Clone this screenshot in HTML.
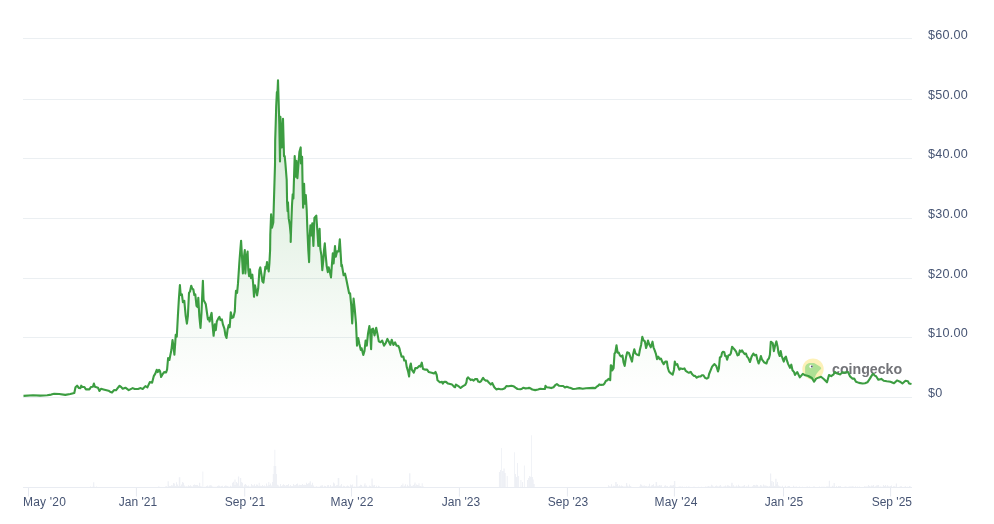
<!DOCTYPE html>
<html><head><meta charset="utf-8"><title>Chart</title><style>
html,body{margin:0;padding:0;background:#fff;}body{width:994px;height:524px;overflow:hidden;position:relative;font-family:"Liberation Sans",sans-serif;}
svg{position:absolute;left:0;top:0;display:block}
.yl{will-change:transform;position:absolute;left:928px;font-size:12.6px;line-height:14px;color:#465473;white-space:nowrap;letter-spacing:0.25px}
.xl{will-change:transform;position:absolute;top:495px;font-size:12px;line-height:14px;color:#465473;white-space:nowrap}
.wm{will-change:transform;position:absolute;left:831.6px;top:360.6px;font-size:14.2px;line-height:16px;font-weight:bold;color:#6c6d72;white-space:nowrap;opacity:.95}
</style></head><body>
<svg width="994" height="524" viewBox="0 0 994 524">
<defs><linearGradient id="g" x1="0" y1="38" x2="0" y2="397" gradientUnits="userSpaceOnUse"><stop offset="0" stop-color="#43a047" stop-opacity="0.29"/><stop offset="0.8" stop-color="#43a047" stop-opacity="0.045"/><stop offset="1" stop-color="#43a047" stop-opacity="0"/></linearGradient></defs>
<rect x="23" y="38" width="889" height="1" fill="#ebeff2"/>
<rect x="23" y="99" width="889" height="1" fill="#ebeff2"/>
<rect x="23" y="158" width="889" height="1" fill="#ebeff2"/>
<rect x="23" y="218" width="889" height="1" fill="#ebeff2"/>
<rect x="23" y="278" width="889" height="1" fill="#ebeff2"/>
<rect x="23" y="337" width="889" height="1" fill="#ebeff2"/>
<rect x="23" y="397" width="889" height="1" fill="#ebeff2"/>
<path d="M23.5 395.9 L33.1 395.2 L40.1 395.6 L47.2 395.2 L51.2 394.6 L54.2 393.8 L59.2 394.0 L65.3 394.9 L70.3 394.0 L74.3 393.0 L75.5 387.2 L77.1 385.7 L78.9 388.0 L80.4 388.2 L81.2 385.7 L82.4 387.0 L84.4 387.0 L85.9 389.4 L89.4 389.4 L90.9 387.0 L92.9 386.7 L93.9 383.6 L94.9 386.7 L98.0 387.7 L99.5 391.0 L101.0 388.7 L103.5 389.4 L108.5 390.7 L110.0 391.7 L112.0 392.5 L114.0 390.1 L116.0 390.3 L118.0 387.7 L119.6 385.8 L121.3 387.1 L122.7 388.7 L125.4 387.7 L128.7 390.1 L132.7 388.1 L134.7 389.0 L138.0 389.0 L140.7 388.1 L142.7 389.0 L145.4 386.1 L147.4 387.4 L149.8 382.1 L152.1 382.7 L153.8 376.1 L155.4 373.4 L156.7 369.8 L157.8 372.1 L159.1 369.8 L160.1 371.4 L161.1 377.0 L162.7 374.1 L164.1 372.1 L166.1 372.5 L167.1 369.4 L168.1 358.0 L169.4 360.0 L170.3 355.4 L171.4 350.0 L172.5 340.0 L173.4 346.0 L174.4 354.7 L175.2 343.4 L175.7 334.7 L176.8 336.7 L177.9 315.8 L178.9 298.6 L179.9 285.0 L180.7 295.0 L181.9 294.3 L182.9 302.2 L184.3 300.8 L185.7 315.8 L186.9 323.6 L187.9 315.8 L189.0 292.9 L190.0 291.5 L191.2 285.7 L192.2 288.6 L193.3 289.3 L194.3 295.0 L195.3 294.3 L196.5 305.8 L197.6 307.2 L198.3 297.9 L199.3 315.8 L200.5 327.9 L201.5 312.9 L202.2 295.8 L202.9 280.7 L203.6 300.0 L204.8 302.2 L205.8 304.3 L206.8 311.5 L207.9 319.4 L209.1 317.9 L209.6 321.5 L210.8 315.8 L211.6 312.9 L212.5 324.4 L213.6 335.8 L214.8 324.4 L215.8 330.1 L216.8 321.5 L218.2 318.6 L219.4 316.9 L220.5 320.1 L221.9 319.4 L222.9 324.4 L224.4 328.7 L225.4 335.1 L226.5 338.0 L227.5 330.1 L228.7 325.1 L229.7 327.2 L230.8 312.2 L232.0 317.9 L233.4 317.2 L234.8 311.5 L235.3 300.0 L236.0 290.7 L237.1 292.8 L238.0 283.4 L239.3 263.4 L240.0 254.0 L241.1 240.7 L242.0 256.7 L242.9 273.4 L244.0 256.7 L244.8 250.0 L245.4 273.4 L246.2 258.7 L247.6 251.6 L248.3 270.1 L249.1 276.1 L250.0 269.4 L251.0 278.1 L252.3 274.7 L253.1 283.4 L254.0 296.8 L255.0 285.4 L256.0 290.1 L257.1 295.4 L258.2 288.7 L259.4 270.1 L260.3 267.4 L261.4 274.1 L262.4 281.4 L263.4 282.7 L264.4 274.7 L265.4 266.7 L266.2 268.7 L267.0 262.0 L267.8 266.7 L268.7 271.4 L269.4 263.4 L270.1 250.0 L270.3 235.0 L271.1 214.4 L272.0 227.8 L273.3 222.4 L274.0 198.4 L275.0 165.0 L275.2 140.0 L275.7 124.0 L276.2 106.0 L276.9 92.0 L277.3 97.0 L278.0 80.4 L278.6 100.0 L278.9 110.0 L279.3 124.0 L280.0 161.4 L280.4 116.7 L281.8 147.4 L283.0 118.7 L284.0 156.1 L284.7 156.1 L285.4 163.4 L286.7 180.0 L287.1 202.4 L287.6 211.1 L288.0 202.4 L288.7 218.4 L289.8 225.1 L290.7 235.0 L290.7 242.0 L291.1 229.1 L292.0 205.1 L292.7 194.4 L293.4 198.4 L294.0 178.4 L294.7 156.1 L295.6 176.8 L296.4 160.7 L297.4 178.1 L298.3 166.1 L299.4 152.1 L300.7 147.4 L301.0 163.4 L302.1 156.7 L302.7 191.7 L303.1 207.7 L304.1 183.7 L304.7 203.7 L305.8 195.0 L306.7 210.0 L307.3 227.4 L308.3 250.1 L309.1 262.1 L309.7 236.7 L310.4 225.4 L311.3 235.4 L312.3 223.4 L313.4 246.0 L314.4 218.0 L316.3 215.6 L317.4 231.4 L318.3 246.0 L319.6 228.7 L320.3 248.7 L321.4 255.4 L322.3 270.1 L323.4 259.4 L324.0 250.1 L324.8 243.4 L325.6 254.1 L326.7 266.1 L327.8 272.1 L328.7 267.4 L329.6 270.7 L331.0 277.4 L331.8 266.1 L332.8 253.4 L333.6 263.4 L335.0 246.0 L335.8 256.7 L337.1 251.4 L338.7 251.4 L339.8 239.4 L340.7 254.1 L341.4 266.1 L341.9 265.0 L343.6 275.3 L345.0 273.6 L346.2 278.7 L347.9 287.3 L349.1 293.3 L350.1 293.3 L351.3 306.2 L352.2 323.4 L353.6 298.5 L354.8 309.7 L356.0 323.4 L357.0 345.7 L358.2 338.0 L359.4 344.0 L360.8 350.0 L361.6 348.3 L363.3 355.0 L364.5 350.9 L365.6 340.6 L366.8 345.7 L368.0 333.7 L369.4 326.0 L370.2 332.8 L371.1 349.2 L371.9 329.4 L373.1 328.6 L374.5 335.4 L376.2 327.7 L377.6 334.6 L378.8 341.4 L380.5 342.3 L382.2 340.6 L384.0 345.7 L385.7 343.2 L387.4 338.9 L389.1 342.3 L390.3 344.9 L391.7 339.7 L393.4 344.9 L395.1 342.3 L396.5 345.7 L398.2 345.7 L399.4 348.3 L400.1 351.3 L401.6 356.6 L403.4 356.6 L404.2 360.5 L405.7 360.5 L406.8 367.3 L408.0 371.1 L409.1 376.5 L409.8 367.3 L410.8 363.5 L411.8 369.6 L413.8 372.7 L415.3 368.1 L417.2 368.1 L419.5 365.8 L420.5 366.6 L421.8 362.7 L423.0 368.9 L424.8 369.6 L427.1 369.6 L428.6 371.9 L431.7 372.7 L434.0 373.4 L435.5 371.9 L436.7 375.0 L437.5 380.3 L439.3 381.8 L440.0 382.3 L442.0 381.9 L442.8 383.6 L444.0 381.9 L446.0 381.9 L448.0 383.6 L450.1 384.1 L452.1 384.6 L454.1 386.7 L455.1 387.2 L455.9 384.6 L457.6 385.7 L459.1 386.7 L460.6 388.0 L462.6 386.4 L465.2 384.9 L466.4 382.6 L467.0 378.6 L468.0 377.3 L469.2 378.6 L470.7 380.1 L472.2 379.6 L473.7 380.6 L475.2 379.1 L477.2 379.1 L478.2 381.6 L479.7 382.1 L481.2 381.1 L482.3 379.1 L483.1 377.9 L484.3 379.6 L485.8 380.6 L487.3 380.6 L488.8 382.6 L490.8 384.6 L492.3 383.1 L493.3 385.2 L494.3 387.2 L496.3 389.4 L498.4 388.7 L500.4 389.2 L502.4 389.2 L504.9 388.2 L506.4 386.0 L508.4 386.2 L511.4 385.7 L513.4 386.2 L515.5 387.7 L517.5 389.0 L520.5 389.2 L522.0 388.7 L523.5 387.7 L525.5 388.4 L527.5 388.2 L529.0 387.9 L530.0 388.1 L532.3 389.5 L535.2 390.1 L538.0 389.5 L540.3 388.7 L542.6 389.0 L544.9 389.0 L545.5 385.8 L546.6 387.2 L548.9 387.5 L551.2 388.1 L553.5 387.2 L555.2 385.2 L556.9 384.1 L559.2 385.8 L561.5 386.0 L563.2 386.0 L564.9 387.5 L566.7 386.7 L568.9 387.5 L570.7 388.1 L573.0 389.0 L575.8 388.7 L579.3 388.1 L582.7 388.7 L586.1 388.3 L589.6 388.1 L593.0 387.9 L595.3 388.1 L597.0 386.4 L598.2 385.8 L599.3 384.4 L601.0 384.9 L603.3 384.7 L604.5 383.5 L605.8 381.0 L607.3 380.3 L608.5 378.9 L610.2 380.1 L610.8 365.2 L611.6 365.8 L612.2 370.4 L613.6 368.1 L614.5 353.7 L615.3 352.6 L616.5 345.2 L617.6 352.6 L618.8 352.6 L619.9 355.5 L620.0 355.4 L621.2 356.6 L622.5 355.4 L623.5 362.2 L624.7 365.9 L626.0 357.3 L627.2 352.3 L628.9 352.9 L630.5 357.3 L632.0 361.6 L633.0 354.8 L634.3 349.2 L635.5 353.5 L637.4 354.8 L638.9 355.4 L639.9 349.8 L641.1 344.9 L642.3 336.8 L643.6 340.5 L644.8 341.1 L646.1 348.0 L647.0 344.9 L648.0 340.5 L649.2 344.2 L650.8 347.3 L652.5 341.7 L653.5 347.3 L654.7 350.4 L656.0 354.2 L657.0 359.1 L658.2 356.6 L659.7 359.1 L660.9 358.5 L662.2 361.6 L663.7 364.1 L665.3 361.6 L666.9 361.6 L667.8 367.8 L669.0 371.5 L670.9 373.4 L672.7 374.6 L674.0 369.7 L674.8 361.6 L675.8 364.7 L677.3 364.1 L678.3 367.2 L679.3 369.7 L680.8 368.4 L682.7 369.0 L684.5 368.4 L685.8 370.9 L687.6 372.1 L688.9 372.8 L690.7 371.9 L692.0 374.0 L693.8 375.9 L695.1 375.9 L696.7 377.7 L698.8 376.5 L700.6 376.5 L701.9 375.2 L703.4 375.2 L705.0 377.7 L706.8 378.6 L708.3 377.7 L709.1 374.0 L710.6 370.3 L712.1 366.6 L713.3 365.3 L714.5 364.1 L716.2 365.9 L717.1 368.4 L718.0 371.5 L718.9 368.4 L719.9 357.3 L721.2 356.6 L722.0 352.9 L723.0 351.7 L724.3 352.3 L725.1 356.0 L726.1 356.0 L727.1 359.7 L728.4 355.4 L729.9 354.8 L730.8 353.5 L732.1 346.7 L733.6 348.6 L734.8 349.8 L736.1 351.7 L737.5 355.4 L738.8 354.8 L739.8 350.4 L741.0 351.7 L742.0 350.4 L743.3 352.3 L744.7 354.2 L746.0 353.5 L747.0 356.6 L748.2 357.9 L750.0 362.0 L751.6 356.6 L753.4 353.5 L754.7 355.4 L756.2 354.8 L757.4 359.7 L758.6 363.5 L759.6 361.0 L760.9 356.0 L762.1 359.7 L764.0 362.2 L766.5 363.5 L767.7 359.7 L768.9 358.5 L769.9 354.8 L770.8 341.7 L772.7 343.0 L773.9 351.1 L775.1 345.5 L776.4 341.4 L777.6 346.7 L778.5 352.9 L779.7 356.0 L780.7 351.1 L781.7 356.0 L782.6 358.5 L783.8 361.6 L784.8 357.9 L785.9 356.6 L786.9 360.4 L788.2 364.1 L790.0 367.8 L791.3 364.7 L792.5 370.3 L794.1 372.1 L795.0 375.0 L797.2 372.0 L799.8 377.4 L802.8 373.8 L805.3 375.3 L808.3 376.0 L811.9 378.0 L814.1 381.7 L816.1 378.6 L819.1 377.4 L821.0 376.8 L824.0 379.2 L827.0 382.3 L829.0 375.0 L831.2 376.2 L833.6 374.4 L834.8 372.0 L837.3 373.6 L840.3 374.4 L842.1 372.4 L844.5 372.6 L848.1 372.0 L849.9 376.2 L852.3 378.6 L854.2 378.6 L856.0 381.7 L859.0 382.9 L862.6 383.5 L865.0 383.2 L867.4 382.3 L869.9 378.6 L871.7 375.6 L872.9 373.8 L874.7 375.6 L876.1 376.2 L878.3 379.8 L881.3 378.9 L883.7 380.8 L886.8 381.3 L890.4 381.7 L894.0 383.2 L897.0 380.4 L900.0 381.7 L902.4 383.5 L905.5 380.8 L907.9 381.3 L909.1 383.5 L911.5 384.1 L911.5 397.5 L23.5 397.5 Z" fill="url(#g)" stroke="none"/>
<path d="M40 487.2h1V487.5h-1ZM43 487.2h1V487.5h-1ZM45 487.2h1V487.5h-1ZM70 487.2h1V487.5h-1ZM73 487.2h1V487.5h-1ZM83 487.2h1V487.5h-1ZM90 486.6h1V487.5h-1ZM91 487h1V487.5h-1ZM92 486.8h1V487.5h-1ZM93 487.2h1V487.5h-1ZM94 486.8h1V487.5h-1ZM95 486.9h1V487.5h-1ZM96 486.5h1V487.5h-1ZM97 487.2h1V487.5h-1ZM100 487.2h1V487.5h-1ZM106 487.2h1V487.5h-1ZM110 487.2h1V487.5h-1ZM114 487.2h1V487.5h-1ZM115 487.2h1V487.5h-1ZM116 487.2h1V487.5h-1ZM120 487.2h1V487.5h-1ZM121 487.1h1V487.5h-1ZM133 487.1h1V487.5h-1ZM134 487.2h1V487.5h-1ZM137 487.2h1V487.5h-1ZM139 487.1h1V487.5h-1ZM140 487.2h1V487.5h-1ZM141 487.2h1V487.5h-1ZM142 487.2h1V487.5h-1ZM146 487.2h1V487.5h-1ZM156 487h1V487.5h-1ZM157 487.2h1V487.5h-1ZM158 486.5h1V487.5h-1ZM159 486.8h1V487.5h-1ZM160 487.1h1V487.5h-1ZM161 487.1h1V487.5h-1ZM162 487h1V487.5h-1ZM163 487h1V487.5h-1ZM164 487.2h1V487.5h-1ZM165 486.5h1V487.5h-1ZM166 486.3h1V487.5h-1ZM167 486.9h1V487.5h-1ZM168 484.7h1V487.5h-1ZM169 486h1V487.5h-1ZM170 486h1V487.5h-1ZM171 485.3h1V487.5h-1ZM172 485.6h1V487.5h-1ZM173 483h1V487.5h-1ZM174 485.9h1V487.5h-1ZM175 486.1h1V487.5h-1ZM176 482.3h1V487.5h-1ZM177 484.5h1V487.5h-1ZM178 485.9h1V487.5h-1ZM179 484.5h1V487.5h-1ZM180 486.1h1V487.5h-1ZM181 484.5h1V487.5h-1ZM182 482.1h1V487.5h-1ZM183 482.8h1V487.5h-1ZM184 485.4h1V487.5h-1ZM185 486.4h1V487.5h-1ZM186 486.3h1V487.5h-1ZM187 486.6h1V487.5h-1ZM188 485.2h1V487.5h-1ZM189 485.9h1V487.5h-1ZM190 485.2h1V487.5h-1ZM191 486.3h1V487.5h-1ZM192 486.5h1V487.5h-1ZM193 485.1h1V487.5h-1ZM194 484.6h1V487.5h-1ZM195 485h1V487.5h-1ZM196 485.1h1V487.5h-1ZM197 485.1h1V487.5h-1ZM198 485.9h1V487.5h-1ZM199 486.8h1V487.5h-1ZM200 486.3h1V487.5h-1ZM201 486.6h1V487.5h-1ZM202 486.9h1V487.5h-1ZM203 486.9h1V487.5h-1ZM204 486.7h1V487.5h-1ZM205 486.7h1V487.5h-1ZM206 486h1V487.5h-1ZM207 485.4h1V487.5h-1ZM208 486.5h1V487.5h-1ZM209 485.5h1V487.5h-1ZM210 485.3h1V487.5h-1ZM211 485.4h1V487.5h-1ZM212 486.6h1V487.5h-1ZM213 486.8h1V487.5h-1ZM214 486.8h1V487.5h-1ZM215 486.8h1V487.5h-1ZM216 486.8h1V487.5h-1ZM217 486.1h1V487.5h-1ZM218 485.5h1V487.5h-1ZM219 485.7h1V487.5h-1ZM220 486.4h1V487.5h-1ZM221 486.1h1V487.5h-1ZM222 485.8h1V487.5h-1ZM223 486.9h1V487.5h-1ZM224 486.1h1V487.5h-1ZM225 485.5h1V487.5h-1ZM226 485.8h1V487.5h-1ZM227 485.9h1V487.5h-1ZM228 486.4h1V487.5h-1ZM229 486.8h1V487.5h-1ZM230 485.8h1V487.5h-1ZM231 486.6h1V487.5h-1ZM232 482.8h1V487.5h-1ZM233 481.7h1V487.5h-1ZM234 484.9h1V487.5h-1ZM235 484.9h1V487.5h-1ZM236 481.9h1V487.5h-1ZM237 483.2h1V487.5h-1ZM238 485.7h1V487.5h-1ZM239 485.8h1V487.5h-1ZM240 485.7h1V487.5h-1ZM241 482.1h1V487.5h-1ZM242 482.7h1V487.5h-1ZM243 486.5h1V487.5h-1ZM244 484.7h1V487.5h-1ZM245 484.1h1V487.5h-1ZM246 485.2h1V487.5h-1ZM247 486.1h1V487.5h-1ZM248 485.6h1V487.5h-1ZM249 486.5h1V487.5h-1ZM250 486.6h1V487.5h-1ZM251 484.1h1V487.5h-1ZM252 485.3h1V487.5h-1ZM253 485.6h1V487.5h-1ZM254 484.3h1V487.5h-1ZM255 485.9h1V487.5h-1ZM256 484.5h1V487.5h-1ZM257 484.7h1V487.5h-1ZM258 486h1V487.5h-1ZM259 485.9h1V487.5h-1ZM260 485.8h1V487.5h-1ZM261 486h1V487.5h-1ZM262 484.9h1V487.5h-1ZM263 485.9h1V487.5h-1ZM264 485.5h1V487.5h-1ZM265 486.2h1V487.5h-1ZM266 483.4h1V487.5h-1ZM267 485.7h1V487.5h-1ZM268 485.3h1V487.5h-1ZM269 484.9h1V487.5h-1ZM270 483.5h1V487.5h-1ZM271 485.5h1V487.5h-1ZM272 482h1V487.5h-1ZM273 484.4h1V487.5h-1ZM274 484.3h1V487.5h-1ZM275 484.3h1V487.5h-1ZM276 486h1V487.5h-1ZM277 484.7h1V487.5h-1ZM278 485.6h1V487.5h-1ZM279 486.4h1V487.5h-1ZM280 484h1V487.5h-1ZM281 486.1h1V487.5h-1ZM282 485.3h1V487.5h-1ZM283 484.3h1V487.5h-1ZM284 485h1V487.5h-1ZM285 485.7h1V487.5h-1ZM286 485.1h1V487.5h-1ZM287 485h1V487.5h-1ZM288 484h1V487.5h-1ZM289 486.3h1V487.5h-1ZM290 485h1V487.5h-1ZM291 486h1V487.5h-1ZM292 485.9h1V487.5h-1ZM293 484.1h1V487.5h-1ZM294 485.2h1V487.5h-1ZM295 485h1V487.5h-1ZM296 484.1h1V487.5h-1ZM297 483.4h1V487.5h-1ZM298 485.4h1V487.5h-1ZM299 484.8h1V487.5h-1ZM300 484.9h1V487.5h-1ZM301 484.9h1V487.5h-1ZM302 484.1h1V487.5h-1ZM303 485.1h1V487.5h-1ZM304 484.8h1V487.5h-1ZM305 485h1V487.5h-1ZM306 482.8h1V487.5h-1ZM307 484.1h1V487.5h-1ZM308 483.2h1V487.5h-1ZM309 482.8h1V487.5h-1ZM310 485.8h1V487.5h-1ZM311 484.7h1V487.5h-1ZM312 482.8h1V487.5h-1ZM313 485.4h1V487.5h-1ZM314 486.8h1V487.5h-1ZM315 486.8h1V487.5h-1ZM316 486.3h1V487.5h-1ZM317 486.8h1V487.5h-1ZM318 486.7h1V487.5h-1ZM319 486.8h1V487.5h-1ZM320 485.8h1V487.5h-1ZM321 485.6h1V487.5h-1ZM322 485.3h1V487.5h-1ZM323 486.8h1V487.5h-1ZM324 485.7h1V487.5h-1ZM325 485.9h1V487.5h-1ZM326 486.8h1V487.5h-1ZM327 485.3h1V487.5h-1ZM328 485.1h1V487.5h-1ZM329 486.7h1V487.5h-1ZM330 485.1h1V487.5h-1ZM331 486.4h1V487.5h-1ZM332 486.2h1V487.5h-1ZM333 482.6h1V487.5h-1ZM334 483.4h1V487.5h-1ZM335 486h1V487.5h-1ZM336 485.2h1V487.5h-1ZM337 484.9h1V487.5h-1ZM338 485.5h1V487.5h-1ZM339 485.9h1V487.5h-1ZM340 485.6h1V487.5h-1ZM341 483.9h1V487.5h-1ZM342 486.7h1V487.5h-1ZM343 485.8h1V487.5h-1ZM344 486.1h1V487.5h-1ZM345 486.7h1V487.5h-1ZM346 486.3h1V487.5h-1ZM347 485.6h1V487.5h-1ZM348 485.9h1V487.5h-1ZM349 486.7h1V487.5h-1ZM350 484.6h1V487.5h-1ZM351 485.2h1V487.5h-1ZM352 484.6h1V487.5h-1ZM353 486.7h1V487.5h-1ZM354 486.4h1V487.5h-1ZM355 486.7h1V487.5h-1ZM356 485.2h1V487.5h-1ZM357 486.4h1V487.5h-1ZM358 486.6h1V487.5h-1ZM359 486.1h1V487.5h-1ZM360 484.8h1V487.5h-1ZM361 485.1h1V487.5h-1ZM362 486.5h1V487.5h-1ZM363 486.6h1V487.5h-1ZM364 484.8h1V487.5h-1ZM365 485.8h1V487.5h-1ZM366 485.4h1V487.5h-1ZM367 486.7h1V487.5h-1ZM368 486.7h1V487.5h-1ZM369 485.5h1V487.5h-1ZM370 486.1h1V487.5h-1ZM371 486.7h1V487.5h-1ZM372 484.7h1V487.5h-1ZM373 485.6h1V487.5h-1ZM374 485.1h1V487.5h-1ZM375 487h1V487.5h-1ZM376 485.8h1V487.5h-1ZM377 487h1V487.5h-1ZM378 485.8h1V487.5h-1ZM379 486.5h1V487.5h-1ZM381 487.2h1V487.5h-1ZM382 486.9h1V487.5h-1ZM385 487.2h1V487.5h-1ZM393 487.1h1V487.5h-1ZM395 487.2h1V487.5h-1ZM400 486.6h1V487.5h-1ZM401 485h1V487.5h-1ZM402 485.6h1V487.5h-1ZM403 486.4h1V487.5h-1ZM404 485.8h1V487.5h-1ZM405 484.3h1V487.5h-1ZM406 486.5h1V487.5h-1ZM407 484.7h1V487.5h-1ZM408 485.9h1V487.5h-1ZM409 485.7h1V487.5h-1ZM410 484.6h1V487.5h-1ZM411 486h1V487.5h-1ZM412 485.7h1V487.5h-1ZM413 485.1h1V487.5h-1ZM414 484.1h1V487.5h-1ZM415 486.1h1V487.5h-1ZM416 484.6h1V487.5h-1ZM417 485.1h1V487.5h-1ZM418 485.3h1V487.5h-1ZM419 485.9h1V487.5h-1ZM420 486.1h1V487.5h-1ZM421 486.6h1V487.5h-1ZM422 486.5h1V487.5h-1ZM423 486.6h1V487.5h-1ZM424 487.1h1V487.5h-1ZM428 487.1h1V487.5h-1ZM429 487.1h1V487.5h-1ZM430 487.2h1V487.5h-1ZM438 487h1V487.5h-1ZM439 487h1V487.5h-1ZM440 487.2h1V487.5h-1ZM442 487h1V487.5h-1ZM448 487.2h1V487.5h-1ZM450 487.2h1V487.5h-1ZM459 487.2h1V487.5h-1ZM460 487.2h1V487.5h-1ZM461 487.1h1V487.5h-1ZM462 487.2h1V487.5h-1ZM463 487.1h1V487.5h-1ZM464 487.1h1V487.5h-1ZM467 487h1V487.5h-1ZM469 487.1h1V487.5h-1ZM470 487.2h1V487.5h-1ZM472 487.1h1V487.5h-1ZM473 487.1h1V487.5h-1ZM474 487.2h1V487.5h-1ZM475 487.1h1V487.5h-1ZM476 487.1h1V487.5h-1ZM478 487.2h1V487.5h-1ZM479 487.2h1V487.5h-1ZM480 487.1h1V487.5h-1ZM481 487.1h1V487.5h-1ZM482 487.1h1V487.5h-1ZM483 487.2h1V487.5h-1ZM484 487.1h1V487.5h-1ZM485 487.2h1V487.5h-1ZM486 487.2h1V487.5h-1ZM492 487.1h1V487.5h-1ZM493 487.2h1V487.5h-1ZM494 487.2h1V487.5h-1ZM495 487.2h1V487.5h-1ZM496 487.2h1V487.5h-1ZM509 487.1h1V487.5h-1ZM511 487.1h1V487.5h-1ZM512 487h1V487.5h-1ZM537 487.2h1V487.5h-1ZM539 487.2h1V487.5h-1ZM540 487.2h1V487.5h-1ZM544 487.2h1V487.5h-1ZM548 487.2h1V487.5h-1ZM553 487.2h1V487.5h-1ZM557 487.2h1V487.5h-1ZM560 487.2h1V487.5h-1ZM575 487.2h1V487.5h-1ZM577 487.2h1V487.5h-1ZM581 487.2h1V487.5h-1ZM590 487.2h1V487.5h-1ZM596 487.2h1V487.5h-1ZM597 487.2h1V487.5h-1ZM600 487.2h1V487.5h-1ZM601 487.2h1V487.5h-1ZM608 485.3h1V487.5h-1ZM609 486.2h1V487.5h-1ZM610 486.6h1V487.5h-1ZM611 484.3h1V487.5h-1ZM612 486.5h1V487.5h-1ZM613 485.8h1V487.5h-1ZM614 486.1h1V487.5h-1ZM615 486.2h1V487.5h-1ZM616 485h1V487.5h-1ZM617 484.1h1V487.5h-1ZM618 486.3h1V487.5h-1ZM619 485.2h1V487.5h-1ZM620 486.2h1V487.5h-1ZM621 485.5h1V487.5h-1ZM622 486h1V487.5h-1ZM623 486.4h1V487.5h-1ZM624 486.5h1V487.5h-1ZM625 486.4h1V487.5h-1ZM626 484.4h1V487.5h-1ZM627 485.7h1V487.5h-1ZM628 486.4h1V487.5h-1ZM629 484.4h1V487.5h-1ZM630 486h1V487.5h-1ZM631 486.8h1V487.5h-1ZM632 487.1h1V487.5h-1ZM633 487h1V487.5h-1ZM634 487.1h1V487.5h-1ZM635 486.9h1V487.5h-1ZM636 487.1h1V487.5h-1ZM637 487h1V487.5h-1ZM638 487h1V487.5h-1ZM639 486.6h1V487.5h-1ZM640 484.2h1V487.5h-1ZM641 484.7h1V487.5h-1ZM642 485.8h1V487.5h-1ZM643 485.8h1V487.5h-1ZM644 485.5h1V487.5h-1ZM645 485.9h1V487.5h-1ZM646 486h1V487.5h-1ZM647 486.5h1V487.5h-1ZM648 486.1h1V487.5h-1ZM649 483.8h1V487.5h-1ZM650 486.4h1V487.5h-1ZM651 485.5h1V487.5h-1ZM652 485.1h1V487.5h-1ZM653 484.3h1V487.5h-1ZM654 486.3h1V487.5h-1ZM655 486.1h1V487.5h-1ZM656 486.2h1V487.5h-1ZM657 485.8h1V487.5h-1ZM658 485.7h1V487.5h-1ZM659 485.1h1V487.5h-1ZM660 485.4h1V487.5h-1ZM661 485.3h1V487.5h-1ZM662 486.9h1V487.5h-1ZM663 486.9h1V487.5h-1ZM664 485.8h1V487.5h-1ZM665 485.3h1V487.5h-1ZM666 486.3h1V487.5h-1ZM667 486h1V487.5h-1ZM668 486.9h1V487.5h-1ZM669 486.4h1V487.5h-1ZM670 485.2h1V487.5h-1ZM671 485.5h1V487.5h-1ZM672 485.4h1V487.5h-1ZM673 485.1h1V487.5h-1ZM674 486.6h1V487.5h-1ZM675 486.8h1V487.5h-1ZM676 487.1h1V487.5h-1ZM677 486.9h1V487.5h-1ZM678 486.7h1V487.5h-1ZM679 486.4h1V487.5h-1ZM680 486.6h1V487.5h-1ZM681 486.7h1V487.5h-1ZM682 486.6h1V487.5h-1ZM683 486.9h1V487.5h-1ZM684 486.8h1V487.5h-1ZM685 487.2h1V487.5h-1ZM686 486.6h1V487.5h-1ZM687 487.1h1V487.5h-1ZM688 486.4h1V487.5h-1ZM689 486.7h1V487.5h-1ZM690 487h1V487.5h-1ZM691 487.2h1V487.5h-1ZM692 487.1h1V487.5h-1ZM693 486.7h1V487.5h-1ZM694 486.7h1V487.5h-1ZM695 487.2h1V487.5h-1ZM696 487.2h1V487.5h-1ZM697 486.9h1V487.5h-1ZM698 486.8h1V487.5h-1ZM699 487h1V487.5h-1ZM700 487.1h1V487.5h-1ZM701 486.8h1V487.5h-1ZM702 487.2h1V487.5h-1ZM703 487.1h1V487.5h-1ZM704 486.9h1V487.5h-1ZM705 486.4h1V487.5h-1ZM706 486.7h1V487.5h-1ZM707 486.5h1V487.5h-1ZM708 486.1h1V487.5h-1ZM709 486.6h1V487.5h-1ZM710 486.5h1V487.5h-1ZM711 484.8h1V487.5h-1ZM712 485.6h1V487.5h-1ZM713 486.4h1V487.5h-1ZM714 486.8h1V487.5h-1ZM715 486.1h1V487.5h-1ZM716 485.6h1V487.5h-1ZM717 486.2h1V487.5h-1ZM718 486.5h1V487.5h-1ZM719 485.7h1V487.5h-1ZM720 484.9h1V487.5h-1ZM721 486.6h1V487.5h-1ZM722 486.8h1V487.5h-1ZM723 486.4h1V487.5h-1ZM724 486.2h1V487.5h-1ZM725 485.6h1V487.5h-1ZM726 486.6h1V487.5h-1ZM727 485.3h1V487.5h-1ZM728 485.5h1V487.5h-1ZM729 486h1V487.5h-1ZM730 486.6h1V487.5h-1ZM731 484.8h1V487.5h-1ZM732 486.4h1V487.5h-1ZM733 485.2h1V487.5h-1ZM734 486.6h1V487.5h-1ZM735 486.6h1V487.5h-1ZM736 485.4h1V487.5h-1ZM737 486.5h1V487.5h-1ZM738 484.8h1V487.5h-1ZM739 486.1h1V487.5h-1ZM740 486.6h1V487.5h-1ZM741 486.6h1V487.5h-1ZM742 486.2h1V487.5h-1ZM743 485.7h1V487.5h-1ZM744 484.9h1V487.5h-1ZM745 486.7h1V487.5h-1ZM746 486.3h1V487.5h-1ZM747 486.6h1V487.5h-1ZM748 484.8h1V487.5h-1ZM749 486.7h1V487.5h-1ZM750 486.8h1V487.5h-1ZM751 486.8h1V487.5h-1ZM752 486.3h1V487.5h-1ZM753 485h1V487.5h-1ZM754 485.1h1V487.5h-1ZM755 485.5h1V487.5h-1ZM756 484.7h1V487.5h-1ZM757 484.9h1V487.5h-1ZM758 486.4h1V487.5h-1ZM759 486.6h1V487.5h-1ZM760 484.9h1V487.5h-1ZM761 485.4h1V487.5h-1ZM762 486.4h1V487.5h-1ZM763 484.5h1V487.5h-1ZM764 485.6h1V487.5h-1ZM765 485.6h1V487.5h-1ZM766 485.7h1V487.5h-1ZM767 486.1h1V487.5h-1ZM768 486.4h1V487.5h-1ZM769 485.9h1V487.5h-1ZM770 485.7h1V487.5h-1ZM771 483.2h1V487.5h-1ZM772 486.2h1V487.5h-1ZM773 483.2h1V487.5h-1ZM774 486.1h1V487.5h-1ZM775 485.7h1V487.5h-1ZM776 483.9h1V487.5h-1ZM777 483.9h1V487.5h-1ZM778 485.4h1V487.5h-1ZM779 486.3h1V487.5h-1ZM780 486.5h1V487.5h-1ZM781 486.7h1V487.5h-1ZM782 485.7h1V487.5h-1ZM783 486.9h1V487.5h-1ZM784 486.7h1V487.5h-1ZM785 485.7h1V487.5h-1ZM786 487h1V487.5h-1ZM787 486.6h1V487.5h-1ZM788 485.9h1V487.5h-1ZM789 486h1V487.5h-1ZM790 487h1V487.5h-1ZM791 487h1V487.5h-1ZM792 487h1V487.5h-1ZM793 485.7h1V487.5h-1ZM794 486.8h1V487.5h-1ZM795 486.8h1V487.5h-1ZM796 486.6h1V487.5h-1ZM797 487.1h1V487.5h-1ZM798 487.1h1V487.5h-1ZM799 486.5h1V487.5h-1ZM800 486.9h1V487.5h-1ZM801 487.1h1V487.5h-1ZM802 486.8h1V487.5h-1ZM803 487.1h1V487.5h-1ZM804 487.1h1V487.5h-1ZM805 487.2h1V487.5h-1ZM806 486.8h1V487.5h-1ZM807 486.6h1V487.5h-1ZM808 486.9h1V487.5h-1ZM809 486.6h1V487.5h-1ZM810 487.2h1V487.5h-1ZM811 487.2h1V487.5h-1ZM812 487h1V487.5h-1ZM813 486.5h1V487.5h-1ZM814 486.6h1V487.5h-1ZM815 487.1h1V487.5h-1ZM816 487.2h1V487.5h-1ZM817 487h1V487.5h-1ZM818 487h1V487.5h-1ZM819 486.6h1V487.5h-1ZM820 487.2h1V487.5h-1ZM821 486.7h1V487.5h-1ZM822 486.8h1V487.5h-1ZM823 486.7h1V487.5h-1ZM824 486.7h1V487.5h-1ZM825 486.9h1V487.5h-1ZM826 486.5h1V487.5h-1ZM827 486.5h1V487.5h-1ZM828 486.5h1V487.5h-1ZM829 485.6h1V487.5h-1ZM830 486.8h1V487.5h-1ZM831 486.7h1V487.5h-1ZM832 485.7h1V487.5h-1ZM833 486.6h1V487.5h-1ZM834 486.8h1V487.5h-1ZM835 486.9h1V487.5h-1ZM836 486.1h1V487.5h-1ZM837 486.9h1V487.5h-1ZM838 486h1V487.5h-1ZM839 486.2h1V487.5h-1ZM840 486h1V487.5h-1ZM841 487h1V487.5h-1ZM842 487.1h1V487.5h-1ZM843 487.1h1V487.5h-1ZM844 486.7h1V487.5h-1ZM845 486.5h1V487.5h-1ZM846 486.8h1V487.5h-1ZM847 487h1V487.5h-1ZM848 486.8h1V487.5h-1ZM849 486.6h1V487.5h-1ZM850 486.5h1V487.5h-1ZM851 486.4h1V487.5h-1ZM852 486.2h1V487.5h-1ZM853 486.5h1V487.5h-1ZM854 487.1h1V487.5h-1ZM855 486.3h1V487.5h-1ZM856 486.9h1V487.5h-1ZM857 486.6h1V487.5h-1ZM858 486.9h1V487.5h-1ZM859 486.4h1V487.5h-1ZM860 487h1V487.5h-1ZM861 487h1V487.5h-1ZM862 487h1V487.5h-1ZM863 487.1h1V487.5h-1ZM864 486.2h1V487.5h-1ZM865 486.6h1V487.5h-1ZM866 486.5h1V487.5h-1ZM867 486.4h1V487.5h-1ZM868 484.9h1V487.5h-1ZM869 486.1h1V487.5h-1ZM870 486.6h1V487.5h-1ZM871 485.4h1V487.5h-1ZM872 485.8h1V487.5h-1ZM873 484.9h1V487.5h-1ZM874 486.8h1V487.5h-1ZM875 486.2h1V487.5h-1ZM876 485.4h1V487.5h-1ZM877 485.3h1V487.5h-1ZM878 485.1h1V487.5h-1ZM879 486.8h1V487.5h-1ZM880 486.5h1V487.5h-1ZM881 486.8h1V487.5h-1ZM882 486.7h1V487.5h-1ZM883 485h1V487.5h-1ZM884 486h1V487.5h-1ZM885 485.1h1V487.5h-1ZM886 486.4h1V487.5h-1ZM887 485.3h1V487.5h-1ZM888 486.3h1V487.5h-1ZM889 486.6h1V487.5h-1ZM890 486h1V487.5h-1ZM891 485.6h1V487.5h-1ZM892 486.9h1V487.5h-1ZM893 486.3h1V487.5h-1ZM894 486.3h1V487.5h-1ZM895 486.8h1V487.5h-1ZM896 486.7h1V487.5h-1ZM897 486.9h1V487.5h-1ZM898 486.9h1V487.5h-1ZM899 486.8h1V487.5h-1ZM900 486.3h1V487.5h-1ZM901 486.2h1V487.5h-1ZM902 486.9h1V487.5h-1ZM903 487h1V487.5h-1ZM904 486.7h1V487.5h-1ZM905 486.2h1V487.5h-1ZM906 486.9h1V487.5h-1ZM907 486.7h1V487.5h-1ZM908 486.9h1V487.5h-1ZM909 485.9h1V487.5h-1ZM910 486.4h1V487.5h-1ZM911 487h1V487.5h-1ZM93.1 482.3h1.2V487.5h-1.2ZM167.6 481.2h1.2V487.5h-1.2ZM174.1 483.6h1V487.5h-1ZM178.8 477.2h1.5V487.5h-1.5ZM199 482.8h1.2V487.5h-1.2ZM202.4 471.6h0.9V487.5h-0.9ZM234.4 479.6h1.2V487.5h-1.2ZM237.9 476.4h1.3V487.5h-1.3ZM240 478h1.2V487.5h-1.2ZM258.7 482.8h1V487.5h-1ZM268.3 482h1V487.5h-1ZM274.4 449.8h0.9V487.5h-0.9ZM273.6 466h2.6V487.5h-2.6ZM272.8 474h4.2V487.5h-4.2ZM309.7 481.2h1.2V487.5h-1.2ZM337.7 478h1.6V487.5h-1.6ZM356.1 475.3h1.3V487.5h-1.3ZM364.5 483.2h1V487.5h-1ZM371.4 478.5h1.3V487.5h-1.3ZM402.4 483.5h1V487.5h-1ZM409.1 473.2h1.3V487.5h-1.3ZM414.4 482.4h1.2V487.5h-1.2ZM418.5 483.3h1V487.5h-1ZM421.7 483.3h1V487.5h-1ZM501.1 448h0.8V487.5h-0.8ZM498.9 472h1.2V487.5h-1.2ZM500 470h1V487.5h-1ZM502.1 471h1.2V487.5h-1.2ZM503.4 468.6h1.3V487.5h-1.3ZM504.7 473h1V487.5h-1ZM506.7 475.9h1V487.5h-1ZM514 452.2h0.8V487.5h-0.8ZM515 474h1V487.5h-1ZM516 477h1V487.5h-1ZM517.1 463h0.9V487.5h-0.9ZM518.1 476h1V487.5h-1ZM520.4 479.9h1V487.5h-1ZM522 482h1V487.5h-1ZM523.9 465.4h0.9V487.5h-0.9ZM527 480h1V487.5h-1ZM528.1 478h1V487.5h-1ZM529.1 475.9h1.2V487.5h-1.2ZM530.2 477h1V487.5h-1ZM531.1 435.2h0.8V487.5h-0.8ZM531.9 477h1V487.5h-1ZM532.7 479.5h1V487.5h-1ZM533.7 484h1V487.5h-1ZM615.2 482h1.5V487.5h-1.5ZM626 483h1.2V487.5h-1.2ZM655.6 482h1.5V487.5h-1.5ZM673.9 481h1.4V487.5h-1.4ZM731.2 482.7h1.5V487.5h-1.5ZM770 473.5h1.2V487.5h-1.2ZM771.4 481h1.2V487.5h-1.2ZM773 482h1V487.5h-1ZM775.2 478.8h1.4V487.5h-1.4ZM777 482h1V487.5h-1ZM828.8 480.8h1.2V487.5h-1.2ZM833.6 483h1.2V487.5h-1.2ZM895.8 483.4h1.2V487.5h-1.2Z" fill="#eef0f5" stroke="none"/>
<rect x="23" y="487" width="889" height="1" fill="#e9ecf2"/>
<rect x="28.0" y="488" width="1" height="8.5" fill="#e6e9f0"/>
<rect x="135.9" y="488" width="1" height="8.5" fill="#e6e9f0"/>
<rect x="244.2" y="488" width="1" height="8.5" fill="#e6e9f0"/>
<rect x="351.0" y="488" width="1" height="8.5" fill="#e6e9f0"/>
<rect x="458.9" y="488" width="1" height="8.5" fill="#e6e9f0"/>
<rect x="566.9" y="488" width="1" height="8.5" fill="#e6e9f0"/>
<rect x="673.9" y="488" width="1" height="8.5" fill="#e6e9f0"/>
<rect x="783.0" y="488" width="1" height="8.5" fill="#e6e9f0"/>
<rect x="890.1" y="488" width="1" height="8.5" fill="#e6e9f0"/>
<g><circle cx="813" cy="369.1" r="10.7" fill="#fdf1b8"/><path d="M805.1 373.6 L805.1 368 C805.3 364.8 807.6 363 811 363 L813.4 363 C815 363.2 816.6 364.4 818.2 365.6 C819.4 366.4 820.4 366.8 820.9 367.4 C821.5 368.1 821.1 369 820.3 369.6 C818.6 371 816.8 373.2 815.6 375.6 C815 376.9 814.7 378.2 814.5 379.3 C810.5 379.8 806.5 377.6 805.1 373.6 Z" fill="#aee094"/><circle cx="811" cy="366.5" r="1.65" fill="#fff"/><circle cx="811.8" cy="366.5" r="0.95" fill="#5b5670"/></g>
</svg>
<div class="wm">coingecko</div>
<svg width="994" height="524" viewBox="0 0 994 524">
<path d="M23.5 395.9 L33.1 395.2 L40.1 395.6 L47.2 395.2 L51.2 394.6 L54.2 393.8 L59.2 394.0 L65.3 394.9 L70.3 394.0 L74.3 393.0 L75.5 387.2 L77.1 385.7 L78.9 388.0 L80.4 388.2 L81.2 385.7 L82.4 387.0 L84.4 387.0 L85.9 389.4 L89.4 389.4 L90.9 387.0 L92.9 386.7 L93.9 383.6 L94.9 386.7 L98.0 387.7 L99.5 391.0 L101.0 388.7 L103.5 389.4 L108.5 390.7 L110.0 391.7 L112.0 392.5 L114.0 390.1 L116.0 390.3 L118.0 387.7 L119.6 385.8 L121.3 387.1 L122.7 388.7 L125.4 387.7 L128.7 390.1 L132.7 388.1 L134.7 389.0 L138.0 389.0 L140.7 388.1 L142.7 389.0 L145.4 386.1 L147.4 387.4 L149.8 382.1 L152.1 382.7 L153.8 376.1 L155.4 373.4 L156.7 369.8 L157.8 372.1 L159.1 369.8 L160.1 371.4 L161.1 377.0 L162.7 374.1 L164.1 372.1 L166.1 372.5 L167.1 369.4 L168.1 358.0 L169.4 360.0 L170.3 355.4 L171.4 350.0 L172.5 340.0 L173.4 346.0 L174.4 354.7 L175.2 343.4 L175.7 334.7 L176.8 336.7 L177.9 315.8 L178.9 298.6 L179.9 285.0 L180.7 295.0 L181.9 294.3 L182.9 302.2 L184.3 300.8 L185.7 315.8 L186.9 323.6 L187.9 315.8 L189.0 292.9 L190.0 291.5 L191.2 285.7 L192.2 288.6 L193.3 289.3 L194.3 295.0 L195.3 294.3 L196.5 305.8 L197.6 307.2 L198.3 297.9 L199.3 315.8 L200.5 327.9 L201.5 312.9 L202.2 295.8 L202.9 280.7 L203.6 300.0 L204.8 302.2 L205.8 304.3 L206.8 311.5 L207.9 319.4 L209.1 317.9 L209.6 321.5 L210.8 315.8 L211.6 312.9 L212.5 324.4 L213.6 335.8 L214.8 324.4 L215.8 330.1 L216.8 321.5 L218.2 318.6 L219.4 316.9 L220.5 320.1 L221.9 319.4 L222.9 324.4 L224.4 328.7 L225.4 335.1 L226.5 338.0 L227.5 330.1 L228.7 325.1 L229.7 327.2 L230.8 312.2 L232.0 317.9 L233.4 317.2 L234.8 311.5 L235.3 300.0 L236.0 290.7 L237.1 292.8 L238.0 283.4 L239.3 263.4 L240.0 254.0 L241.1 240.7 L242.0 256.7 L242.9 273.4 L244.0 256.7 L244.8 250.0 L245.4 273.4 L246.2 258.7 L247.6 251.6 L248.3 270.1 L249.1 276.1 L250.0 269.4 L251.0 278.1 L252.3 274.7 L253.1 283.4 L254.0 296.8 L255.0 285.4 L256.0 290.1 L257.1 295.4 L258.2 288.7 L259.4 270.1 L260.3 267.4 L261.4 274.1 L262.4 281.4 L263.4 282.7 L264.4 274.7 L265.4 266.7 L266.2 268.7 L267.0 262.0 L267.8 266.7 L268.7 271.4 L269.4 263.4 L270.1 250.0 L270.3 235.0 L271.1 214.4 L272.0 227.8 L273.3 222.4 L274.0 198.4 L275.0 165.0 L275.2 140.0 L275.7 124.0 L276.2 106.0 L276.9 92.0 L277.3 97.0 L278.0 80.4 L278.6 100.0 L278.9 110.0 L279.3 124.0 L280.0 161.4 L280.4 116.7 L281.8 147.4 L283.0 118.7 L284.0 156.1 L284.7 156.1 L285.4 163.4 L286.7 180.0 L287.1 202.4 L287.6 211.1 L288.0 202.4 L288.7 218.4 L289.8 225.1 L290.7 235.0 L290.7 242.0 L291.1 229.1 L292.0 205.1 L292.7 194.4 L293.4 198.4 L294.0 178.4 L294.7 156.1 L295.6 176.8 L296.4 160.7 L297.4 178.1 L298.3 166.1 L299.4 152.1 L300.7 147.4 L301.0 163.4 L302.1 156.7 L302.7 191.7 L303.1 207.7 L304.1 183.7 L304.7 203.7 L305.8 195.0 L306.7 210.0 L307.3 227.4 L308.3 250.1 L309.1 262.1 L309.7 236.7 L310.4 225.4 L311.3 235.4 L312.3 223.4 L313.4 246.0 L314.4 218.0 L316.3 215.6 L317.4 231.4 L318.3 246.0 L319.6 228.7 L320.3 248.7 L321.4 255.4 L322.3 270.1 L323.4 259.4 L324.0 250.1 L324.8 243.4 L325.6 254.1 L326.7 266.1 L327.8 272.1 L328.7 267.4 L329.6 270.7 L331.0 277.4 L331.8 266.1 L332.8 253.4 L333.6 263.4 L335.0 246.0 L335.8 256.7 L337.1 251.4 L338.7 251.4 L339.8 239.4 L340.7 254.1 L341.4 266.1 L341.9 265.0 L343.6 275.3 L345.0 273.6 L346.2 278.7 L347.9 287.3 L349.1 293.3 L350.1 293.3 L351.3 306.2 L352.2 323.4 L353.6 298.5 L354.8 309.7 L356.0 323.4 L357.0 345.7 L358.2 338.0 L359.4 344.0 L360.8 350.0 L361.6 348.3 L363.3 355.0 L364.5 350.9 L365.6 340.6 L366.8 345.7 L368.0 333.7 L369.4 326.0 L370.2 332.8 L371.1 349.2 L371.9 329.4 L373.1 328.6 L374.5 335.4 L376.2 327.7 L377.6 334.6 L378.8 341.4 L380.5 342.3 L382.2 340.6 L384.0 345.7 L385.7 343.2 L387.4 338.9 L389.1 342.3 L390.3 344.9 L391.7 339.7 L393.4 344.9 L395.1 342.3 L396.5 345.7 L398.2 345.7 L399.4 348.3 L400.1 351.3 L401.6 356.6 L403.4 356.6 L404.2 360.5 L405.7 360.5 L406.8 367.3 L408.0 371.1 L409.1 376.5 L409.8 367.3 L410.8 363.5 L411.8 369.6 L413.8 372.7 L415.3 368.1 L417.2 368.1 L419.5 365.8 L420.5 366.6 L421.8 362.7 L423.0 368.9 L424.8 369.6 L427.1 369.6 L428.6 371.9 L431.7 372.7 L434.0 373.4 L435.5 371.9 L436.7 375.0 L437.5 380.3 L439.3 381.8 L440.0 382.3 L442.0 381.9 L442.8 383.6 L444.0 381.9 L446.0 381.9 L448.0 383.6 L450.1 384.1 L452.1 384.6 L454.1 386.7 L455.1 387.2 L455.9 384.6 L457.6 385.7 L459.1 386.7 L460.6 388.0 L462.6 386.4 L465.2 384.9 L466.4 382.6 L467.0 378.6 L468.0 377.3 L469.2 378.6 L470.7 380.1 L472.2 379.6 L473.7 380.6 L475.2 379.1 L477.2 379.1 L478.2 381.6 L479.7 382.1 L481.2 381.1 L482.3 379.1 L483.1 377.9 L484.3 379.6 L485.8 380.6 L487.3 380.6 L488.8 382.6 L490.8 384.6 L492.3 383.1 L493.3 385.2 L494.3 387.2 L496.3 389.4 L498.4 388.7 L500.4 389.2 L502.4 389.2 L504.9 388.2 L506.4 386.0 L508.4 386.2 L511.4 385.7 L513.4 386.2 L515.5 387.7 L517.5 389.0 L520.5 389.2 L522.0 388.7 L523.5 387.7 L525.5 388.4 L527.5 388.2 L529.0 387.9 L530.0 388.1 L532.3 389.5 L535.2 390.1 L538.0 389.5 L540.3 388.7 L542.6 389.0 L544.9 389.0 L545.5 385.8 L546.6 387.2 L548.9 387.5 L551.2 388.1 L553.5 387.2 L555.2 385.2 L556.9 384.1 L559.2 385.8 L561.5 386.0 L563.2 386.0 L564.9 387.5 L566.7 386.7 L568.9 387.5 L570.7 388.1 L573.0 389.0 L575.8 388.7 L579.3 388.1 L582.7 388.7 L586.1 388.3 L589.6 388.1 L593.0 387.9 L595.3 388.1 L597.0 386.4 L598.2 385.8 L599.3 384.4 L601.0 384.9 L603.3 384.7 L604.5 383.5 L605.8 381.0 L607.3 380.3 L608.5 378.9 L610.2 380.1 L610.8 365.2 L611.6 365.8 L612.2 370.4 L613.6 368.1 L614.5 353.7 L615.3 352.6 L616.5 345.2 L617.6 352.6 L618.8 352.6 L619.9 355.5 L620.0 355.4 L621.2 356.6 L622.5 355.4 L623.5 362.2 L624.7 365.9 L626.0 357.3 L627.2 352.3 L628.9 352.9 L630.5 357.3 L632.0 361.6 L633.0 354.8 L634.3 349.2 L635.5 353.5 L637.4 354.8 L638.9 355.4 L639.9 349.8 L641.1 344.9 L642.3 336.8 L643.6 340.5 L644.8 341.1 L646.1 348.0 L647.0 344.9 L648.0 340.5 L649.2 344.2 L650.8 347.3 L652.5 341.7 L653.5 347.3 L654.7 350.4 L656.0 354.2 L657.0 359.1 L658.2 356.6 L659.7 359.1 L660.9 358.5 L662.2 361.6 L663.7 364.1 L665.3 361.6 L666.9 361.6 L667.8 367.8 L669.0 371.5 L670.9 373.4 L672.7 374.6 L674.0 369.7 L674.8 361.6 L675.8 364.7 L677.3 364.1 L678.3 367.2 L679.3 369.7 L680.8 368.4 L682.7 369.0 L684.5 368.4 L685.8 370.9 L687.6 372.1 L688.9 372.8 L690.7 371.9 L692.0 374.0 L693.8 375.9 L695.1 375.9 L696.7 377.7 L698.8 376.5 L700.6 376.5 L701.9 375.2 L703.4 375.2 L705.0 377.7 L706.8 378.6 L708.3 377.7 L709.1 374.0 L710.6 370.3 L712.1 366.6 L713.3 365.3 L714.5 364.1 L716.2 365.9 L717.1 368.4 L718.0 371.5 L718.9 368.4 L719.9 357.3 L721.2 356.6 L722.0 352.9 L723.0 351.7 L724.3 352.3 L725.1 356.0 L726.1 356.0 L727.1 359.7 L728.4 355.4 L729.9 354.8 L730.8 353.5 L732.1 346.7 L733.6 348.6 L734.8 349.8 L736.1 351.7 L737.5 355.4 L738.8 354.8 L739.8 350.4 L741.0 351.7 L742.0 350.4 L743.3 352.3 L744.7 354.2 L746.0 353.5 L747.0 356.6 L748.2 357.9 L750.0 362.0 L751.6 356.6 L753.4 353.5 L754.7 355.4 L756.2 354.8 L757.4 359.7 L758.6 363.5 L759.6 361.0 L760.9 356.0 L762.1 359.7 L764.0 362.2 L766.5 363.5 L767.7 359.7 L768.9 358.5 L769.9 354.8 L770.8 341.7 L772.7 343.0 L773.9 351.1 L775.1 345.5 L776.4 341.4 L777.6 346.7 L778.5 352.9 L779.7 356.0 L780.7 351.1 L781.7 356.0 L782.6 358.5 L783.8 361.6 L784.8 357.9 L785.9 356.6 L786.9 360.4 L788.2 364.1 L790.0 367.8 L791.3 364.7 L792.5 370.3 L794.1 372.1 L795.0 375.0 L797.2 372.0 L799.8 377.4 L802.8 373.8 L805.3 375.3 L808.3 376.0 L811.9 378.0 L814.1 381.7 L816.1 378.6 L819.1 377.4 L821.0 376.8 L824.0 379.2 L827.0 382.3 L829.0 375.0 L831.2 376.2 L833.6 374.4 L834.8 372.0 L837.3 373.6 L840.3 374.4 L842.1 372.4 L844.5 372.6 L848.1 372.0 L849.9 376.2 L852.3 378.6 L854.2 378.6 L856.0 381.7 L859.0 382.9 L862.6 383.5 L865.0 383.2 L867.4 382.3 L869.9 378.6 L871.7 375.6 L872.9 373.8 L874.7 375.6 L876.1 376.2 L878.3 379.8 L881.3 378.9 L883.7 380.8 L886.8 381.3 L890.4 381.7 L894.0 383.2 L897.0 380.4 L900.0 381.7 L902.4 383.5 L905.5 380.8 L907.9 381.3 L909.1 383.5 L911.5 384.1" fill="none" stroke="#3c9d41" stroke-width="2.1" stroke-linejoin="round" stroke-linecap="butt"/>
</svg>
<div class="yl" style="top:28px">$60.00</div>
<div class="yl" style="top:88px">$50.00</div>
<div class="yl" style="top:147px">$40.00</div>
<div class="yl" style="top:207px">$30.00</div>
<div class="yl" style="top:267px">$20.00</div>
<div class="yl" style="top:326px">$10.00</div>
<div class="yl" style="top:386px">$0</div>
<div class="xl" style="left:23.4px;letter-spacing:0.2px">May '20</div>
<div class="xl" style="left:97.5px;width:80px;text-align:center">Jan '21</div>
<div class="xl" style="left:205.1px;width:80px;text-align:center">Sep '21</div>
<div class="xl" style="left:311.9px;width:80px;text-align:center;letter-spacing:0.2px">May '22</div>
<div class="xl" style="left:420.5px;width:80px;text-align:center">Jan '23</div>
<div class="xl" style="left:527.8px;width:80px;text-align:center">Sep '23</div>
<div class="xl" style="left:635.5px;width:80px;text-align:center;letter-spacing:0.2px">May '24</div>
<div class="xl" style="left:743.6px;width:80px;text-align:center">Jan '25</div>
<div class="xl" style="left:830px;width:82px;text-align:right">Sep '25</div>
</body></html>
